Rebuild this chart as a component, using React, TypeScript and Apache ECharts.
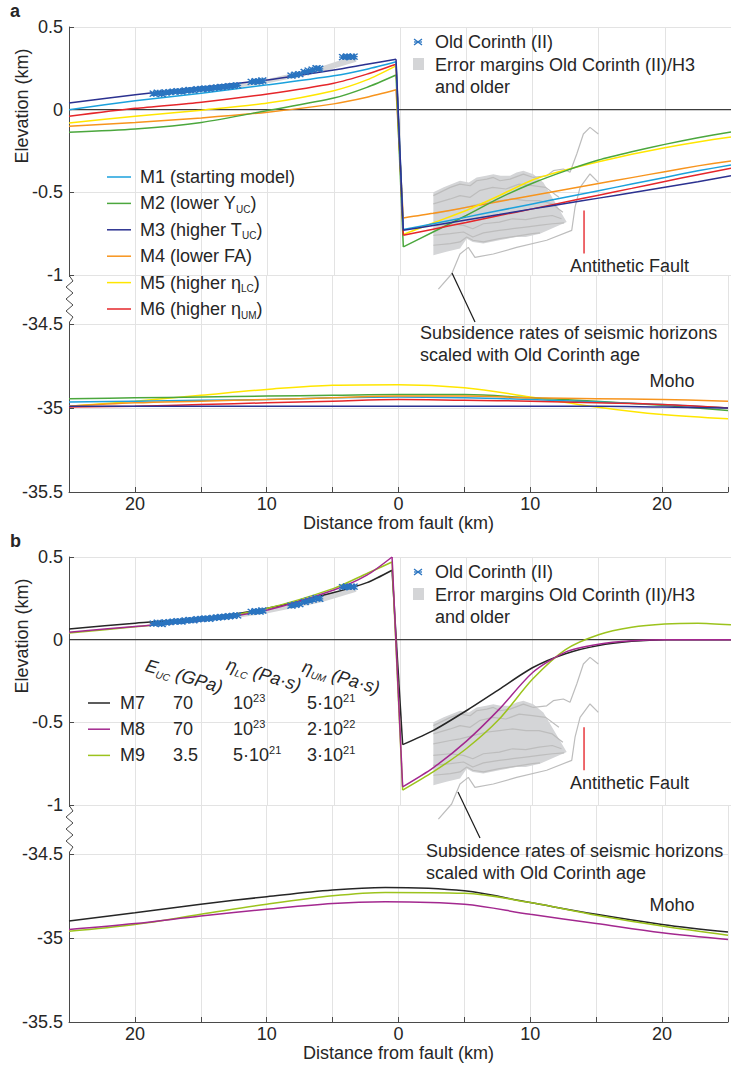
import React, { useEffect, useRef } from 'react';
import * as echarts from 'echarts';

const FONT = '"Liberation Sans", Arial, Helvetica, sans-serif';
const TXT = '#262626';
const AXIS = '#4a4a4a';
const GRIDC = '#e3e3e3';

// ---------------- tick labels ----------------
const elevTicks = [0.5, 0, -0.5, -1];
const mohoTicks = [-34.5, -35, -35.5];
const distTicks = [-20, -10, 0, 10, 20];

// ---------------- colours ----------------
const C_M1 = '#1ba1dc';
const C_M2 = '#4ba73d';
const C_M3 = '#2b3190';
const C_M4 = '#f7941d';
const C_M5 = '#ffe600';
const C_M6 = '#e5262a';
const C_M7 = '#262626';
const C_M8 = '#a3288f';
const C_M9 = '#9cc31d';
const C_OC = '#2a74c0';
const C_POLY = '#d4d5d7';
const C_SUB = '#bdbdbd';
const C_FAULT = '#e8383d';

// ---------------- panel a : surface elevation (km) ----------------
const distA = [-25, -20, -15, -10, -5, -2.5, -0.3, 0.25, 2.5, 5, 7.5, 10, 12.5, 15, 17.5, 20, 22.5, 25];
const m1Surf = [0.0, 0.054, 0.1, 0.15, 0.205, 0.245, 0.29, -0.725, -0.69, -0.65, -0.61, -0.57, -0.53, -0.49, -0.45, -0.41, -0.37, -0.335];
const m2Surf = [-0.137, -0.117, -0.077, -0.005, 0.07, 0.135, 0.21, -0.83, -0.74, -0.64, -0.535, -0.445, -0.37, -0.305, -0.255, -0.21, -0.17, -0.135];
const m3Surf = [0.04, 0.09, 0.135, 0.18, 0.24, 0.275, 0.305, -0.73, -0.7, -0.667, -0.634, -0.6, -0.568, -0.535, -0.502, -0.469, -0.436, -0.4];
const m4Surf = [-0.1, -0.077, -0.05, -0.015, 0.035, 0.075, 0.12, -0.655, -0.627, -0.591, -0.555, -0.519, -0.483, -0.447, -0.411, -0.375, -0.34, -0.31];
const m5Surf = [-0.08, -0.04, -0.003, 0.04, 0.115, 0.18, 0.265, -0.755, -0.685, -0.61, -0.52, -0.425, -0.365, -0.315, -0.27, -0.23, -0.195, -0.165];
const m6Surf = [-0.04, 0.008, 0.045, 0.095, 0.16, 0.215, 0.275, -0.76, -0.723, -0.682, -0.64, -0.6, -0.558, -0.517, -0.476, -0.434, -0.393, -0.355];

// ---------------- panel a : Moho depth (km) ----------------
const distMohoA = [-25, -20, -15, -10, -5, 0, 5, 10, 15, 20, 25];
const m1Moho = [-34.965, -34.96, -34.955, -34.95, -34.94, -34.935, -34.94, -34.95, -34.965, -34.98, -35.0];
const m2Moho = [-34.945, -34.94, -34.935, -34.93, -34.925, -34.92, -34.92, -34.94, -34.96, -34.985, -35.015];
const m3Moho = [-34.99, -34.99, -34.99, -34.99, -34.99, -34.99, -34.99, -34.99, -34.99, -34.995, -35.0];
const m4Moho = [-34.99, -34.97, -34.96, -34.95, -34.94, -34.93, -34.93, -34.94, -34.945, -34.95, -34.96];
const m5Moho = [-34.99, -34.96, -34.925, -34.89, -34.865, -34.862, -34.88, -34.935, -34.995, -35.04, -35.065];
const m6Moho = [-34.995, -34.99, -34.98, -34.97, -34.96, -34.95, -34.955, -34.96, -34.97, -34.98, -35.0];

// ---------------- panel b : surface elevation (km) ----------------
const distB = [-25, -20, -15, -10, -5, -2.5, -0.6, 0.2, 2.5, 5, 7.5, 10, 12.5, 15, 17.5, 20, 22.5, 25];
const m7Surf = [0.065, 0.1, 0.13, 0.19, 0.285, 0.345, 0.42, -0.635, -0.55, -0.43, -0.3, -0.17, -0.085, -0.035, -0.01, 0.0, 0.0, 0.0];
const m8Surf = [0.045, 0.08, 0.115, 0.18, 0.3, 0.39, 0.5, -0.89, -0.775, -0.615, -0.42, -0.2, -0.075, -0.028, -0.007, 0.0, 0.0, 0.0];
const m9Surf = [0.04, 0.078, 0.118, 0.19, 0.31, 0.4, 0.47, -0.91, -0.8, -0.66, -0.48, -0.24, -0.06, 0.03, 0.075, 0.095, 0.1, 0.09];

// ---------------- panel b : Moho depth (km) ----------------
const distMohoB = [-25, -20, -15, -10, -5, -1, 5, 10, 15, 20, 25];
const m7Moho = [-34.9, -34.85, -34.8, -34.755, -34.715, -34.7, -34.72, -34.79, -34.86, -34.92, -34.965];
const m8Moho = [-34.95, -34.915, -34.87, -34.83, -34.795, -34.785, -34.8, -34.86, -34.915, -34.97, -35.01];
const m9Moho = [-34.96, -34.92, -34.86, -34.8, -34.75, -34.73, -34.735, -34.79, -34.865, -34.93, -34.985];

// ---------------- Old Corinth (II) observations ----------------
const ocDist = [-18.6, -18.3, -18.0, -17.7, -17.4, -17.1, -16.8, -16.5, -16.2, -15.9, -15.6, -15.3, -15.0, -14.7, -14.4, -14.1, -13.8, -13.5, -13.2, -12.9, -12.6, -12.3, -11.2, -10.9, -10.6, -10.4, -8.2, -7.9, -7.6, -7.2, -6.9, -6.6, -6.3, -6.1, -4.3, -4.0, -3.7, -3.5];
const ocElev = [0.097, 0.102, 0.095, 0.104, 0.106, 0.109, 0.112, 0.11, 0.116, 0.119, 0.117, 0.123, 0.125, 0.128, 0.127, 0.132, 0.134, 0.137, 0.139, 0.142, 0.144, 0.147, 0.168, 0.172, 0.17, 0.176, 0.206, 0.211, 0.215, 0.228, 0.236, 0.242, 0.25, 0.247, 0.318, 0.322, 0.319, 0.321];

// error margin band on the footwall
const bandDist = [-18.8, -12, -10, -6, -3.3];
const bandLow = [0.085, 0.135, 0.16, 0.225, 0.29];
const bandHigh = [0.11, 0.16, 0.185, 0.26, 0.33];

// error margin polygon in the hanging wall
const polyTop = [[2.52, -0.5], [3.3, -0.47], [4.53, -0.43], [5.2, -0.44], [5.79, -0.41], [6.5, -0.4], [7.05, -0.39], [7.6, -0.4], [8.31, -0.4], [8.8, -0.38], [9.32, -0.37], [10.07, -0.39], [10.83, -0.44], [12.59, -0.68]];
const polyBottom = [[10.57, -0.75], [9.5, -0.77], [8.81, -0.77], [7.5, -0.79], [6.29, -0.81], [5.5, -0.8], [5.04, -0.78], [4.53, -0.84], [3.5, -0.86], [2.52, -0.88]];

// subsidence of seismic horizons scaled with Old Corinth age
const subH1 = [[2.52, -0.52], [3.8, -0.47], [4.53, -0.45], [5.3, -0.46], [5.79, -0.43], [6.55, -0.42], [7.05, -0.41], [7.55, -0.43], [8.31, -0.42], [9.32, -0.39], [10.07, -0.41], [11.08, -0.4], [11.58, -0.369], [12.34, -0.359], [12.84, -0.379], [13.35, -0.268], [13.85, -0.147], [14.35, -0.107], [14.98, -0.147]];
const subH2 = [[2.52, -0.57], [3.8, -0.54], [4.53, -0.52], [5.3, -0.53], [6.0, -0.49], [7.0, -0.47], [8.0, -0.48], [9.0, -0.45], [10.0, -0.46], [11.0, -0.47], [12.0, -0.53]];
const subH3 = [[2.52, -0.63], [3.8, -0.61], [4.53, -0.6], [5.5, -0.58], [6.5, -0.56], [7.5, -0.55], [8.5, -0.54], [9.5, -0.55], [10.5, -0.55], [11.5, -0.57], [12.3, -0.62]];
const subH4 = [[2.52, -0.7], [3.8, -0.69], [4.8, -0.7], [5.5, -0.72], [6.3, -0.69], [7.5, -0.68], [8.5, -0.66], [9.5, -0.665], [10.5, -0.65], [11.5, -0.64], [12.2, -0.66]];
const subH5 = [[2.52, -0.76], [3.8, -0.75], [4.8, -0.74], [5.5, -0.77], [6.3, -0.745], [7.5, -0.73], [8.5, -0.72], [9.5, -0.71], [10.5, -0.7], [11.5, -0.69], [12.4, -0.685]];
const subH6 = [[2.52, -0.82], [3.8, -0.81], [4.53, -0.8], [5.04, -0.77], [5.5, -0.79], [6.3, -0.8], [7.5, -0.78], [8.8, -0.765], [10.0, -0.75], [10.57, -0.745]];
const subH7 = [[2.9, -1.085], [3.9, -0.994], [4.53, -0.873], [5.16, -0.833], [5.66, -0.893], [7.05, -0.873], [8.81, -0.833], [11.08, -0.79], [12.97, -0.73], [13.22, -0.59], [13.6, -0.47], [14.35, -0.389], [14.98, -0.44]];

// antithetic fault marks (distance, top, bottom)
const faultA = [13.9, -0.61, -0.87];
const faultB = [13.9, -0.53, -0.79];

// ---------------- texts ----------------
const legendA = [
  { text: '{n|M1 (starting model)}', color: C_M1 },
  { text: '{n|M2 (lower Y}{s|UC}{n|)}', color: C_M2 },
  { text: '{n|M3 (higher T}{s|UC}{n|)}', color: C_M3 },
  { text: '{n|M4 (lower FA)}', color: C_M4 },
  { text: '{n|M5 (higher η}{s|LC}{n|)}', color: C_M5 },
  { text: '{n|M6 (higher η}{s|UM}{n|)}', color: C_M6 },
];
const tableHead = ['{i|E}{si|UC}{i| (GPa)}', '{i|η}{si|LC}{i| (Pa·s)}', '{i|η}{si|UM}{i| (Pa·s)}'];
const tableRows = [
  { color: C_M7, cells: ['{n|M7}', '{n|70}', '{n|10}{p|23}', '{n|5·10}{p|21}'] },
  { color: C_M8, cells: ['{n|M8}', '{n|70}', '{n|10}{p|23}', '{n|2·10}{p|22}'] },
  { color: C_M9, cells: ['{n|M9}', '{n|3.5}', '{n|5·10}{p|21}', '{n|3·10}{p|21}'] },
];

const RICH: any = {
  n: { fontSize: 18, fontFamily: FONT, lineHeight: 22, fill: TXT },
  s: { fontSize: 10, fontFamily: FONT, lineHeight: 10, fill: TXT, verticalAlign: 'bottom' },
  p: { fontSize: 11, fontFamily: FONT, lineHeight: 11, fill: TXT, verticalAlign: 'top' },
  i: { fontSize: 18, fontFamily: FONT, lineHeight: 22, fill: TXT, fontStyle: 'italic' },
  si: { fontSize: 10, fontFamily: FONT, lineHeight: 10, fill: TXT, verticalAlign: 'bottom', fontStyle: 'italic' },
};

function pairs(xs: number[], ys: number[]) {
  return xs.map((x, i) => [x, ys[i]]);
}

function surface(xs: number[], ys: number[], color: string, xi: number, yi: number, peak: number) {
  const base: any = {
    type: 'line', xAxisIndex: xi, yAxisIndex: yi, symbol: 'none', silent: true,
    lineStyle: { color, width: 1.5 }, itemStyle: { color }, z: 4, clip: false,
  };
  return [
    { ...base, data: pairs(xs.slice(0, peak + 1), ys.slice(0, peak + 1)), smooth: 0.25 },
    { ...base, data: pairs(xs.slice(peak, peak + 2), ys.slice(peak, peak + 2)) },
    { ...base, data: pairs(xs.slice(peak + 1), ys.slice(peak + 1)), smooth: 0.25 },
  ];
}

function moho(xs: number[], ys: number[], color: string, xi: number, yi: number) {
  return {
    type: 'line', xAxisIndex: xi, yAxisIndex: yi, symbol: 'none', silent: true, smooth: 0.35,
    lineStyle: { color, width: 1.5 }, data: pairs(xs, ys), z: 4,
  };
}

function polygon(points: number[][], xi: number, yi: number, fill: string) {
  return {
    type: 'custom', xAxisIndex: xi, yAxisIndex: yi, silent: true, z: 1,
    data: [[points[0][0], points[0][1]]],
    renderItem: (_p: any, api: any) => ({
      type: 'polygon',
      shape: { points: points.map((p) => api.coord(p)) },
      style: { fill },
    }),
  };
}

function greyLine(pts: number[][], xi: number, yi: number) {
  return {
    type: 'line', xAxisIndex: xi, yAxisIndex: yi, symbol: 'none', silent: true, clip: false,
    lineStyle: { color: C_SUB, width: 1.2 }, data: pts, z: 2,
  };
}

function panelData(xi: number, yi: number, fault: number[]) {
  const s: any[] = [];
  const band = [
    ...bandDist.map((d, i) => [d, bandLow[i]]),
    ...bandDist.map((d, i) => [d, bandHigh[i]]).reverse(),
  ];
  s.push(polygon(band, xi, yi, C_POLY));
  s.push(polygon([...polyTop, ...polyBottom], xi, yi, C_POLY));
  [subH1, subH2, subH3, subH4, subH5, subH6, subH7].forEach((p) => s.push(greyLine(p, xi, yi)));
  s.push({
    type: 'line', xAxisIndex: xi, yAxisIndex: yi, symbol: 'none', silent: true,
    lineStyle: { color: '#3c3c3c', width: 1.2 }, data: [[-25, 0], [25, 0]], z: 3,
  });
  s.push({
    type: 'line', xAxisIndex: xi, yAxisIndex: yi, symbol: 'none', silent: true,
    lineStyle: { color: C_FAULT, width: 1.5 }, data: [[fault[0], fault[1]], [fault[0], fault[2]]], z: 3,
  });
  s.push({
    type: 'scatter', xAxisIndex: xi, yAxisIndex: yi, silent: true, z: 6,
    symbol: 'path://M0,0L8,6M0,6L8,0M0,3L8,3M4,0L4,6', symbolSize: [8, 6],
    itemStyle: { color: 'rgba(0,0,0,0)', borderColor: C_OC, borderWidth: 1.5, opacity: 1 },
    data: pairs(ocDist, ocElev),
  });
  return s;
}

function xAx(gi: number, bottom: boolean) {
  return {
    type: 'value', gridIndex: gi, min: -25, max: 25, interval: 5,
    axisLine: { show: bottom, onZero: false, lineStyle: { color: AXIS, width: 1 } },
    axisTick: { show: bottom, inside: true, length: 5, lineStyle: { color: AXIS } },
    axisLabel: {
      show: bottom, margin: 3, fontSize: 18, fontFamily: FONT, color: TXT,
      formatter: (v: number) => (distTicks.includes(v) ? String(Math.abs(v)) : ''),
    },
    splitLine: { show: true, lineStyle: { color: GRIDC, width: 1 } },
    name: bottom ? 'Distance from fault (km)' : '',
    nameLocation: 'middle', nameGap: 20,
    nameTextStyle: { fontSize: 18, fontFamily: FONT, color: TXT },
  };
}

function yAx(gi: number, upper: boolean) {
  return {
    type: 'value', gridIndex: gi,
    min: upper ? -1 : -35.5, max: upper ? 0.5 : -34.21, interval: 0.5,
    axisLine: { show: true, onZero: false, lineStyle: { color: AXIS, width: 1 } },
    axisTick: { show: true, inside: true, length: 5, lineStyle: { color: AXIS } },
    axisLabel: {
      margin: 6, fontSize: 18, fontFamily: FONT, color: TXT,
      formatter: (v: number) => {
        const list = upper ? elevTicks : mohoTicks;
        return list.some((t) => Math.abs(t - v) < 1e-6) ? String(v) : '';
      },
    },
    splitLine: { show: true, lineStyle: { color: GRIDC, width: 1 } },
  };
}

function txt(x: number, y: number, t: string, extra: any = {}) {
  return {
    type: 'text', x, y, silent: true, z: 100,
    style: { text: t, fill: TXT, fontSize: 18, fontFamily: FONT, align: 'left', verticalAlign: 'middle', ...extra },
  };
}

function panelGraphics(dy: number, f: { ty: number; ly1: number; ly2: number; lx1: number; lx2: number; sy: number; my: number }) {
  const g: any[] = [];
  // axis break
  g.push({ type: 'rect', silent: true, z: 90, shape: { x: 65, y: 277 + dy, width: 10, height: 45 }, style: { fill: '#fff' } });
  g.push({
    type: 'polyline', silent: true, z: 91,
    shape: { points: [[69.5, 276 + dy], [73, 281 + dy], [66, 287 + dy], [73, 293 + dy], [66, 299 + dy], [73, 305 + dy], [66, 311 + dy], [73, 317 + dy], [69.5, 322 + dy]] },
    style: { stroke: AXIS, lineWidth: 1, fill: null },
  });
  // y axis title
  const yt: any = txt(22, 106 + dy, 'Elevation (km)', { align: 'center' });
  yt.rotation = Math.PI / 2;
  g.push(yt);
  // data legend (top right)
  g.push({ type: 'line', silent: true, z: 100, shape: { x1: 414, y1: 39 + dy, x2: 422, y2: 45 + dy }, style: { stroke: C_OC, lineWidth: 1.3 } });
  g.push({ type: 'line', silent: true, z: 100, shape: { x1: 414, y1: 45 + dy, x2: 422, y2: 39 + dy }, style: { stroke: C_OC, lineWidth: 1.3 } });
  g.push({ type: 'line', silent: true, z: 100, shape: { x1: 414, y1: 42 + dy, x2: 422, y2: 42 + dy }, style: { stroke: C_OC, lineWidth: 1.3 } });
  g.push(txt(435, 42 + dy, 'Old Corinth (II)'));
  g.push({ type: 'rect', silent: true, z: 100, shape: { x: 413, y: 58 + dy, width: 11, height: 12 }, style: { fill: C_POLY } });
  g.push(txt(435, 65 + dy, 'Error margins Old Corinth (II)/H3'));
  g.push(txt(435, 87 + dy, 'and older'));
  // annotations
  g.push(txt(570, f.ty, 'Antithetic Fault'));
  g.push({ type: 'line', silent: true, z: 100, shape: { x1: f.lx1, y1: f.ly1, x2: f.lx2, y2: f.ly2 }, style: { stroke: '#1a1a1a', lineWidth: 1.2 } });
  g.push(txt(f.lx1 - 32, f.sy, 'Subsidence rates of seismic horizons'));
  g.push(txt(f.lx1 - 32, f.sy + 22, 'scaled with Old Corinth age'));
  g.push(txt(672, f.my, 'Moho', { align: 'center' }));
  return g;
}

function buildOption() {
  const series: any[] = [];
  // panel a
  series.push(...panelData(0, 0, faultA));
  series.push(...surface(distA, m4Surf, C_M4, 0, 0, 6));
  series.push(...surface(distA, m5Surf, C_M5, 0, 0, 6));
  series.push(...surface(distA, m2Surf, C_M2, 0, 0, 6));
  series.push(...surface(distA, m6Surf, C_M6, 0, 0, 6));
  series.push(...surface(distA, m1Surf, C_M1, 0, 0, 6));
  series.push(...surface(distA, m3Surf, C_M3, 0, 0, 6));
  series.push(moho(distMohoA, m5Moho, C_M5, 1, 1));
  series.push(moho(distMohoA, m2Moho, C_M2, 1, 1));
  series.push(moho(distMohoA, m1Moho, C_M1, 1, 1));
  series.push(moho(distMohoA, m4Moho, C_M4, 1, 1));
  series.push(moho(distMohoA, m6Moho, C_M6, 1, 1));
  series.push(moho(distMohoA, m3Moho, C_M3, 1, 1));
  // panel b
  series.push(...panelData(2, 2, faultB));
  series.push(...surface(distB, m7Surf, C_M7, 2, 2, 6));
  series.push(...surface(distB, m9Surf, C_M9, 2, 2, 6));
  series.push(...surface(distB, m8Surf, C_M8, 2, 2, 6));
  series.push(moho(distMohoB, m7Moho, C_M7, 3, 3));
  series.push(moho(distMohoB, m9Moho, C_M9, 3, 3));
  series.push(moho(distMohoB, m8Moho, C_M8, 3, 3));

  const g: any[] = [];
  g.push(txt(10, 11, 'a', { fontWeight: 'bold' }));
  g.push(txt(10, 541, 'b', { fontWeight: 'bold' }));
  g.push(...panelGraphics(0, { ty: 266, lx1: 452, ly1: 273, lx2: 475, ly2: 322, sy: 333, my: 381 }));
  g.push(...panelGraphics(530, { ty: 783, lx1: 458, ly1: 792, lx2: 480, ly2: 838, sy: 851, my: 905 }));

  // panel a model legend
  legendA.forEach((e, i) => {
    const y = 177 + i * 26.4;
    g.push({ type: 'line', silent: true, z: 100, shape: { x1: 107, y1: y, x2: 131, y2: y }, style: { stroke: e.color, lineWidth: 1.5 } });
    g.push({ type: 'text', x: 140, y, silent: true, z: 100, style: { text: e.text, rich: RICH, align: 'left', verticalAlign: 'middle' } });
  });
  // panel b table
  const headPos = [[146, 665], [227, 664], [303, 666]];
  tableHead.forEach((t, i) => {
    g.push({ type: 'text', x: headPos[i][0], y: headPos[i][1], rotation: -0.287, silent: true, z: 100, style: { text: t, rich: RICH, align: 'left', verticalAlign: 'middle' } });
  });
  const colX = [120, 173, 233, 307];
  tableRows.forEach((r, i) => {
    const y = 703 + i * 26.2;
    g.push({ type: 'line', silent: true, z: 100, shape: { x1: 88, y1: y, x2: 110, y2: y }, style: { stroke: r.color, lineWidth: 1.5 } });
    r.cells.forEach((c, j) => {
      g.push({ type: 'text', x: colX[j], y, silent: true, z: 100, style: { text: c, rich: RICH, align: 'left', verticalAlign: 'middle' } });
    });
  });

  return {
    animation: false,
    backgroundColor: '#ffffff',
    grid: [
      { left: 69, width: 663, top: 27, height: 248 },
      { left: 69, width: 663, top: 275, height: 217 },
      { left: 69, width: 663, top: 557, height: 248 },
      { left: 69, width: 663, top: 805, height: 217 },
    ],
    xAxis: [xAx(0, false), xAx(1, true), xAx(2, false), xAx(3, true)],
    yAxis: [yAx(0, true), yAx(1, false), yAx(2, true), yAx(3, false)],
    series,
    graphic: { elements: g },
  };
}

export default function App() {
  const ref = useRef<HTMLDivElement>(null);
  useEffect(() => {
    const chart = echarts.init(ref.current as HTMLDivElement, null, { renderer: 'svg' });
    chart.setOption(buildOption() as any);
    return () => chart.dispose();
  }, []);
  return (
    <div
      ref={ref}
      style={{ position: 'absolute', left: 0, top: 0, width: 731, height: 1066, background: '#fff' }}
    />
  );
}
